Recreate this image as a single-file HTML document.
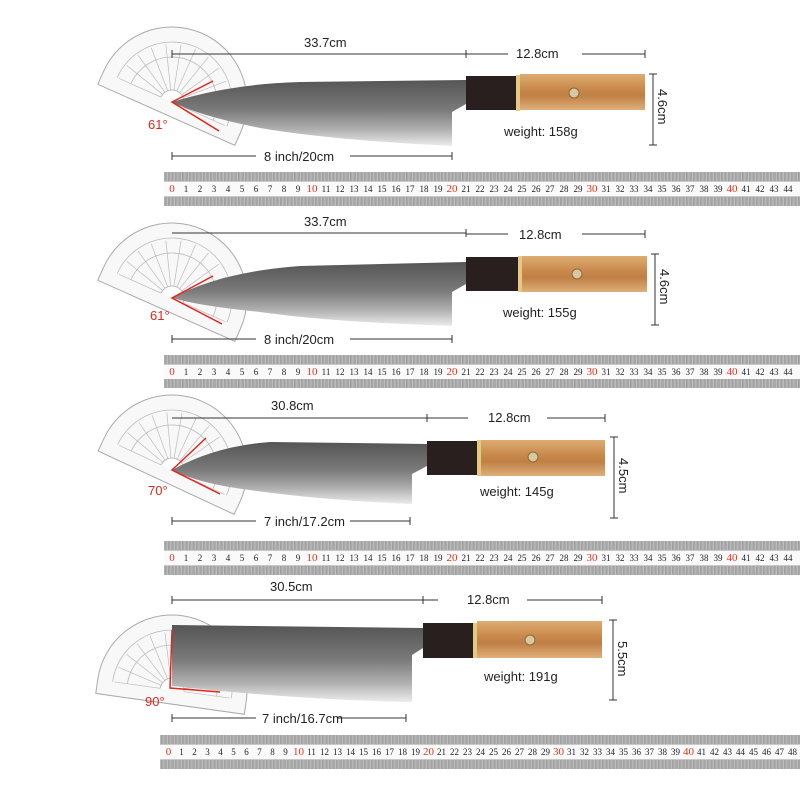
<!DOCTYPE html>
<html><head><meta charset="utf-8">
<style>
body{margin:0;background:#fff;width:800px;height:800px;overflow:hidden;position:relative;font-family:"Liberation Sans",sans-serif}
svg{position:absolute;left:0;top:0}
.rl{position:absolute;display:flex;font-family:"Liberation Serif",serif;font-size:9px;color:#222;height:12px;line-height:12px}
.rl span{text-align:center;flex:none}
.rl .r{color:#e8321e;font-size:11px}
</style></head><body>
<svg width="800" height="800" viewBox="0 0 800 800">
<defs>
<linearGradient id="bl" x1="0" y1="0" x2="0" y2="1">
<stop offset="0" stop-color="#555"/><stop offset=".45" stop-color="#7a7a7a"/><stop offset=".75" stop-color="#b0b0b0"/><stop offset="1" stop-color="#ececec"/></linearGradient>
<linearGradient id="wd" x1="0" y1="0" x2="0" y2="1">
<stop offset="0" stop-color="#deac72"/><stop offset=".4" stop-color="#c98a4c"/><stop offset=".6" stop-color="#c07f45"/><stop offset="1" stop-color="#e0b07a"/></linearGradient>
<pattern id="tk" width="1.4" height="10" patternUnits="userSpaceOnUse"><rect width="0.6" height="10" fill="#888"/></pattern>
<g id="prot">
<path d="M-75,0 A75,75 0 0 1 75,0 L75,14 L-75,14 Z" fill="#f4f4f4" fill-opacity=".6" stroke="#aaa" stroke-width="1"/>
<path d="M-60,0 A60,60 0 0 1 60,0" fill="none" stroke="#bbb" stroke-width=".8"/>
<path d="M-45,0 A45,45 0 0 1 45,0" fill="none" stroke="#bbb" stroke-width=".8"/>
<g stroke="#bbb" stroke-width=".7">
<line x1="-12" y1="0" x2="-58" y2="0"/><line x1="-11.6" y1="-3.1" x2="-56" y2="-15"/><line x1="-10.4" y1="-6" x2="-50" y2="-29"/><line x1="-8.5" y1="-8.5" x2="-41" y2="-41"/><line x1="-6" y1="-10.4" x2="-29" y2="-50"/><line x1="-3.1" y1="-11.6" x2="-15" y2="-56"/><line x1="0" y1="-12" x2="0" y2="-58"/><line x1="3.1" y1="-11.6" x2="15" y2="-56"/><line x1="6" y1="-10.4" x2="29" y2="-50"/><line x1="8.5" y1="-8.5" x2="41" y2="-41"/><line x1="10.4" y1="-6" x2="50" y2="-29"/><line x1="11.6" y1="-3.1" x2="56" y2="-15"/><line x1="12" y1="0" x2="58" y2="0"/>
</g>
<path d="M-12,0 A12,12 0 0 1 12,0" fill="#fff" stroke="#bbb"/>
</g>
</defs>

<use href="#prot" transform="translate(172,102) rotate(24)"/>
<use href="#prot" transform="translate(172,298) rotate(24)"/>
<use href="#prot" transform="translate(172,470) rotate(25)"/>
<use href="#prot" transform="translate(172,690) rotate(8)"/>

<path d="M172,102 Q230,84 300,82 L466,80 L466,104 L452,112 L452,146 Q330,140 260,128 Q200,116 172,102 Z" fill="url(#bl)"/>
<rect x="466" y="76" width="50" height="34" fill="#2a1f1f"/>
<rect x="516" y="75" width="4" height="36" fill="#e6c880"/>
<rect x="520" y="74" width="125" height="36" fill="url(#wd)"/>
<circle cx="574" cy="93" r="5" fill="#d8c7a0" stroke="#8a6a3a"/>
<path d="M172,298 Q220,272 300,266 L466,262 L466,284 L452,292 L452,326 Q330,322 260,312 Q200,306 172,298 Z" fill="url(#bl)"/>
<rect x="466" y="257" width="52" height="34" fill="#2a1f1f"/>
<rect x="518" y="256" width="4" height="36" fill="#e6c880"/>
<rect x="522" y="256" width="125" height="36" fill="url(#wd)"/>
<circle cx="577" cy="274" r="5" fill="#d8c7a0" stroke="#8a6a3a"/>
<path d="M172,470 Q215,446 270,442 L427,444 L427,466 L412,474 L412,504 Q320,500 250,490 Q200,484 172,470 Z" fill="url(#bl)"/>
<rect x="427" y="441" width="50" height="34" fill="#2a1f1f"/>
<rect x="477" y="440" width="4" height="36" fill="#e6c880"/>
<rect x="481" y="440" width="124" height="36" fill="url(#wd)"/>
<circle cx="533" cy="457" r="5" fill="#d8c7a0" stroke="#8a6a3a"/>
<path d="M172,625 L423,628 L423,648 L412,655 L412,702 Q300,700 172,686 Z" fill="url(#bl)"/>
<rect x="423" y="623" width="50" height="35" fill="#2a1f1f"/>
<rect x="473" y="623" width="4" height="35" fill="#e6c880"/>
<rect x="477" y="621" width="125" height="37" fill="url(#wd)"/>
<circle cx="530" cy="640" r="5" fill="#d8c7a0" stroke="#8a6a3a"/>

<g stroke="#e3261b" stroke-width="1.5" fill="none">
<path d="M213,81 L172,102 L219,131"/>
<path d="M213,276 L172,298 L222,324"/>
<path d="M206,438 L172,470 L220,494"/>
<path d="M172,630 L170,688 L220,692"/>
</g>

<g stroke="#333" stroke-width="1" fill="none">
<path d="M172,54 H466 M466,50 V58 M466,54 H508 M582,54 H645 M645,50 V58 M172,50 V58"/>
<path d="M172,156 H256 M350,156 H452 M172,152 V160 M452,152 V160"/>
<path d="M653,74 V145 M649,74 H657 M649,145 H657"/>
<path d="M172,233 H466 M466,229 V237 M466,234 H508 M582,234 H645 M645,230 V238"/>
<path d="M172,339 H256 M350,339 H452 M172,335 V343 M452,335 V343"/>
<path d="M655,254 V325 M651,254 H659 M651,325 H659"/>
<path d="M172,418 H427 M427,414 V422 M427,418 H468 M547,418 H605 M605,414 V422"/>
<path d="M172,521 H256 M350,521 H410 M172,517 V525 M410,517 V525"/>
<path d="M614,437 V518 M610,437 H618 M610,518 H618"/>
<path d="M172,600 H423 M172,596 V604 M423,596 V604 M423,600 H438 M527,600 H602 M602,596 V604"/>
<path d="M172,718 H256 M338,718 H406 M172,714 V722 M406,714 V722"/>
<path d="M613,620 V700 M609,620 H617 M609,700 H617"/>
</g>

<g>
<rect x="164" y="172" width="636" height="34" fill="#c8c8c8"/>
<rect x="164" y="172" width="636" height="9" fill="url(#tk)"/>
<rect x="164" y="197" width="636" height="9" fill="url(#tk)"/>
<rect x="164" y="182" width="636" height="14" fill="#fafafa"/>
<rect x="164" y="355" width="636" height="33" fill="#c8c8c8"/>
<rect x="164" y="355" width="636" height="9" fill="url(#tk)"/>
<rect x="164" y="379" width="636" height="9" fill="url(#tk)"/>
<rect x="164" y="365" width="636" height="14" fill="#fafafa"/>
<rect x="164" y="541" width="636" height="34" fill="#c8c8c8"/>
<rect x="164" y="541" width="636" height="9" fill="url(#tk)"/>
<rect x="164" y="566" width="636" height="9" fill="url(#tk)"/>
<rect x="164" y="551" width="636" height="14" fill="#fafafa"/>
<rect x="160" y="735" width="640" height="34" fill="#c8c8c8"/>
<rect x="160" y="735" width="640" height="9" fill="url(#tk)"/>
<rect x="160" y="760" width="640" height="9" fill="url(#tk)"/>
<rect x="160" y="745" width="640" height="14" fill="#fafafa"/>
</g>

<g font-family="Liberation Sans, sans-serif" font-size="13" fill="#222">
<text x="304" y="47">33.7cm</text><text x="516" y="58">12.8cm</text><text x="264" y="161">8 inch/20cm</text>
<text x="504" y="136">weight:  158g</text>
<text x="304" y="226">33.7cm</text><text x="519" y="239">12.8cm</text><text x="264" y="344">8 inch/20cm</text>
<text x="503" y="317">weight:  155g</text>
<text x="271" y="410">30.8cm</text><text x="488" y="422">12.8cm</text><text x="264" y="526">7 inch/17.2cm</text>
<text x="480" y="496">weight:  145g</text>
<text x="270" y="591">30.5cm</text><text x="467" y="604">12.8cm</text><text x="262" y="723">7 inch/16.7cm</text>
<text x="484" y="681">weight:  191g</text>
<text transform="translate(658,89) rotate(90)">4.6cm</text>
<text transform="translate(660,269) rotate(90)">4.6cm</text>
<text transform="translate(619,458) rotate(90)">4.5cm</text>
<text transform="translate(618,641) rotate(90)">5.5cm</text>
</g>
<g font-family="Liberation Sans, sans-serif" font-size="13" fill="#e3261b">
<text x="148" y="129">61°</text><text x="150" y="320">61°</text><text x="148" y="495">70°</text><text x="145" y="706">90°</text>
</g>
</svg>

<div class="rl" style="left:165px;top:183px"><span style="width:14px" class="r">0</span><span style="width:14px">1</span><span style="width:14px">2</span><span style="width:14px">3</span><span style="width:14px">4</span><span style="width:14px">5</span><span style="width:14px">6</span><span style="width:14px">7</span><span style="width:14px">8</span><span style="width:14px">9</span><span style="width:14px" class="r">10</span><span style="width:14px">11</span><span style="width:14px">12</span><span style="width:14px">13</span><span style="width:14px">14</span><span style="width:14px">15</span><span style="width:14px">16</span><span style="width:14px">17</span><span style="width:14px">18</span><span style="width:14px">19</span><span style="width:14px" class="r">20</span><span style="width:14px">21</span><span style="width:14px">22</span><span style="width:14px">23</span><span style="width:14px">24</span><span style="width:14px">25</span><span style="width:14px">26</span><span style="width:14px">27</span><span style="width:14px">28</span><span style="width:14px">29</span><span style="width:14px" class="r">30</span><span style="width:14px">31</span><span style="width:14px">32</span><span style="width:14px">33</span><span style="width:14px">34</span><span style="width:14px">35</span><span style="width:14px">36</span><span style="width:14px">37</span><span style="width:14px">38</span><span style="width:14px">39</span><span style="width:14px" class="r">40</span><span style="width:14px">41</span><span style="width:14px">42</span><span style="width:14px">43</span><span style="width:14px">44</span></div>
<div class="rl" style="left:165px;top:366px"><span style="width:14px" class="r">0</span><span style="width:14px">1</span><span style="width:14px">2</span><span style="width:14px">3</span><span style="width:14px">4</span><span style="width:14px">5</span><span style="width:14px">6</span><span style="width:14px">7</span><span style="width:14px">8</span><span style="width:14px">9</span><span style="width:14px" class="r">10</span><span style="width:14px">11</span><span style="width:14px">12</span><span style="width:14px">13</span><span style="width:14px">14</span><span style="width:14px">15</span><span style="width:14px">16</span><span style="width:14px">17</span><span style="width:14px">18</span><span style="width:14px">19</span><span style="width:14px" class="r">20</span><span style="width:14px">21</span><span style="width:14px">22</span><span style="width:14px">23</span><span style="width:14px">24</span><span style="width:14px">25</span><span style="width:14px">26</span><span style="width:14px">27</span><span style="width:14px">28</span><span style="width:14px">29</span><span style="width:14px" class="r">30</span><span style="width:14px">31</span><span style="width:14px">32</span><span style="width:14px">33</span><span style="width:14px">34</span><span style="width:14px">35</span><span style="width:14px">36</span><span style="width:14px">37</span><span style="width:14px">38</span><span style="width:14px">39</span><span style="width:14px" class="r">40</span><span style="width:14px">41</span><span style="width:14px">42</span><span style="width:14px">43</span><span style="width:14px">44</span></div>
<div class="rl" style="left:165px;top:552px"><span style="width:14px" class="r">0</span><span style="width:14px">1</span><span style="width:14px">2</span><span style="width:14px">3</span><span style="width:14px">4</span><span style="width:14px">5</span><span style="width:14px">6</span><span style="width:14px">7</span><span style="width:14px">8</span><span style="width:14px">9</span><span style="width:14px" class="r">10</span><span style="width:14px">11</span><span style="width:14px">12</span><span style="width:14px">13</span><span style="width:14px">14</span><span style="width:14px">15</span><span style="width:14px">16</span><span style="width:14px">17</span><span style="width:14px">18</span><span style="width:14px">19</span><span style="width:14px" class="r">20</span><span style="width:14px">21</span><span style="width:14px">22</span><span style="width:14px">23</span><span style="width:14px">24</span><span style="width:14px">25</span><span style="width:14px">26</span><span style="width:14px">27</span><span style="width:14px">28</span><span style="width:14px">29</span><span style="width:14px" class="r">30</span><span style="width:14px">31</span><span style="width:14px">32</span><span style="width:14px">33</span><span style="width:14px">34</span><span style="width:14px">35</span><span style="width:14px">36</span><span style="width:14px">37</span><span style="width:14px">38</span><span style="width:14px">39</span><span style="width:14px" class="r">40</span><span style="width:14px">41</span><span style="width:14px">42</span><span style="width:14px">43</span><span style="width:14px">44</span></div>
<div class="rl" style="left:162px;top:746px"><span style="width:13px" class="r">0</span><span style="width:13px">1</span><span style="width:13px">2</span><span style="width:13px">3</span><span style="width:13px">4</span><span style="width:13px">5</span><span style="width:13px">6</span><span style="width:13px">7</span><span style="width:13px">8</span><span style="width:13px">9</span><span style="width:13px" class="r">10</span><span style="width:13px">11</span><span style="width:13px">12</span><span style="width:13px">13</span><span style="width:13px">14</span><span style="width:13px">15</span><span style="width:13px">16</span><span style="width:13px">17</span><span style="width:13px">18</span><span style="width:13px">19</span><span style="width:13px" class="r">20</span><span style="width:13px">21</span><span style="width:13px">22</span><span style="width:13px">23</span><span style="width:13px">24</span><span style="width:13px">25</span><span style="width:13px">26</span><span style="width:13px">27</span><span style="width:13px">28</span><span style="width:13px">29</span><span style="width:13px" class="r">30</span><span style="width:13px">31</span><span style="width:13px">32</span><span style="width:13px">33</span><span style="width:13px">34</span><span style="width:13px">35</span><span style="width:13px">36</span><span style="width:13px">37</span><span style="width:13px">38</span><span style="width:13px">39</span><span style="width:13px" class="r">40</span><span style="width:13px">41</span><span style="width:13px">42</span><span style="width:13px">43</span><span style="width:13px">44</span><span style="width:13px">45</span><span style="width:13px">46</span><span style="width:13px">47</span><span style="width:13px">48</span></div>
</body></html>
